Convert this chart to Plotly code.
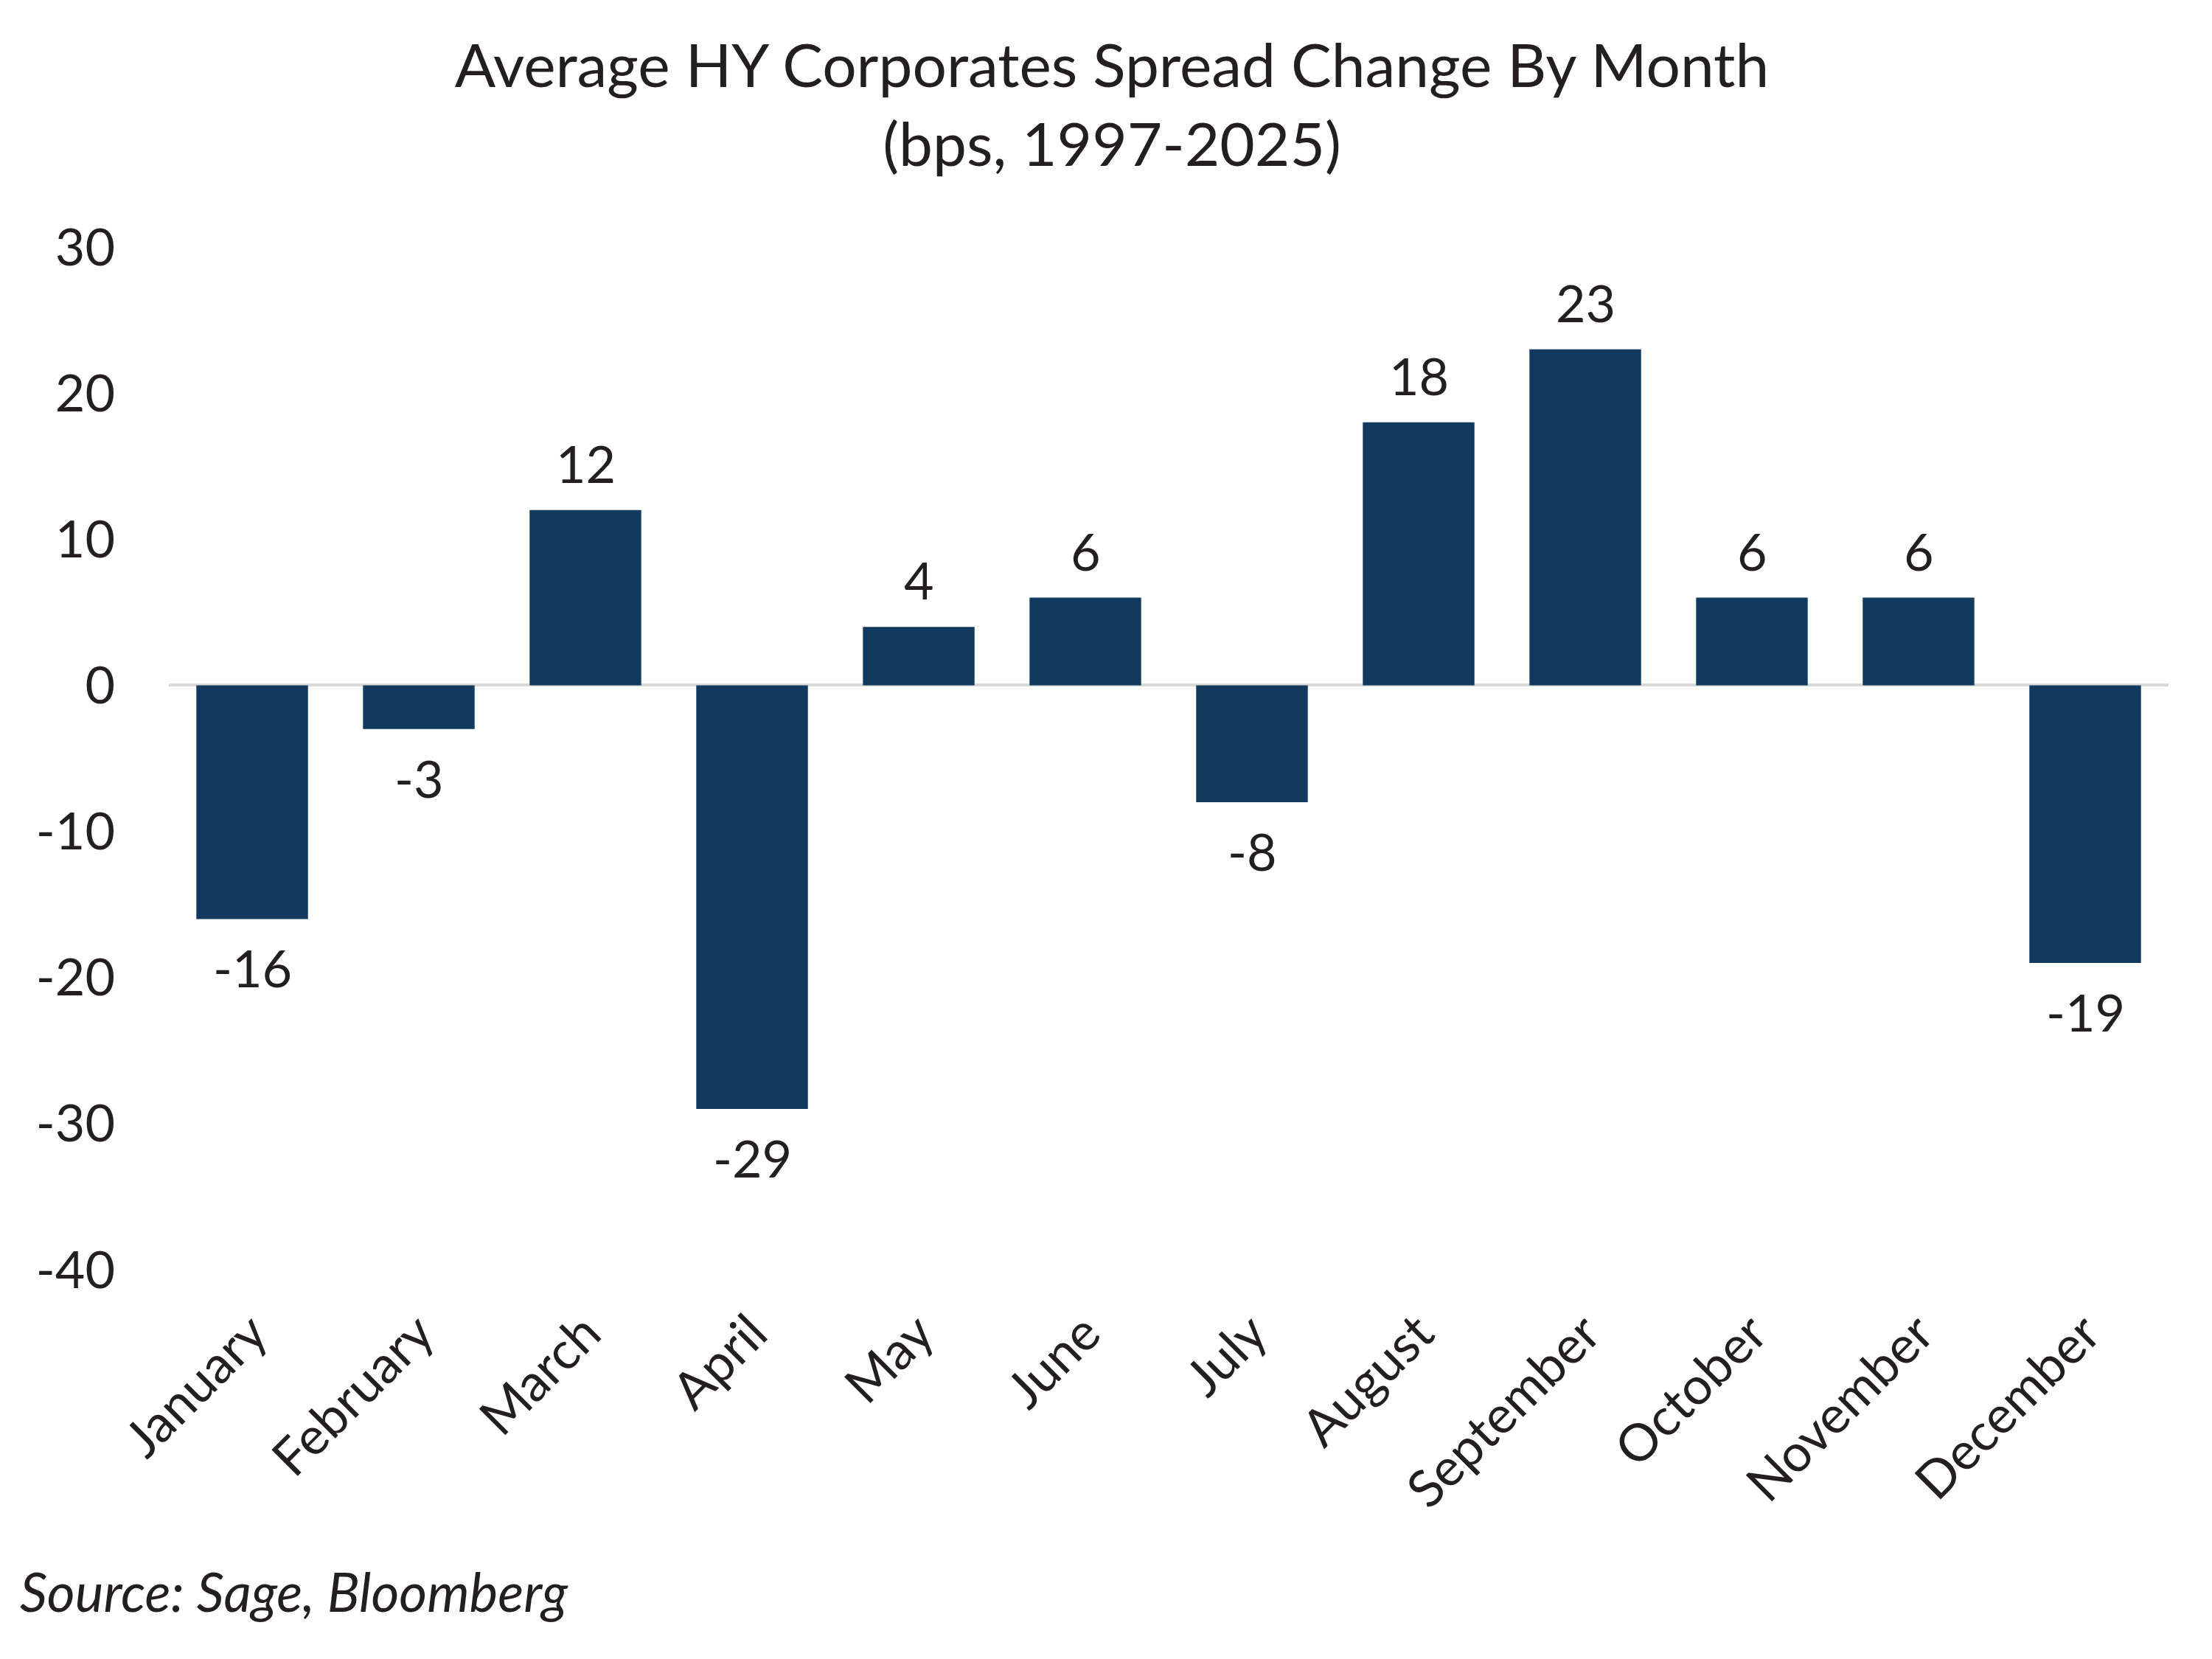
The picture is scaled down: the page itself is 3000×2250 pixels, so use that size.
import plotly.graph_objects as go

months = ["January", "February", "March", "April", "May", "June", "July",
          "August", "September", "October", "November", "December"]
spread_change = [-16, -3, 12, -29, 4, 6, -8, 18, 23, 6, 6, -19]
y_ticks = [-40, -30, -20, -10, 0, 10, 20, 30]

BAR_COLOR = "#123A5E"
TEXT_COLOR = "#231F20"
FONT = "Lato"

W, H = 3000, 2250
ML, MR, MT, MB = 221, 67, 327, 536
PW, PH = W - ML - MR, H - MT - MB

fig = go.Figure()
fig.add_trace(go.Bar(
    x=months, y=spread_change,
    marker=dict(color=BAR_COLOR, line=dict(width=0)),
    hoverinfo="x+y",
))

annotations = []
for m, v in zip(months, spread_change):
    annotations.append(dict(
        x=m, y=v, xref="x", yref="y", text=str(v), showarrow=False,
        yanchor="middle", yshift=64 if v >= 0 else -66,
        font=dict(family=FONT, size=70, color=TEXT_COLOR),
    ))
annotations.append(dict(
    x=(17 - ML) / PW, y=(H - MB - 2150) / PH, xref="paper", yref="paper",
    text="<i>Source: Sage, Bloomberg</i>",
    showarrow=False, xanchor="left", yanchor="middle",
    font=dict(family=FONT, size=73, color=TEXT_COLOR),
))

fig.update_layout(
    width=W, height=H,
    paper_bgcolor="white", plot_bgcolor="white",
    margin=dict(l=ML, r=MR, t=MT, b=MB),
    font=dict(family=FONT, size=70, color=TEXT_COLOR),
    title=dict(
        text="Average HY Corporates Spread Change By Month<br>(bps, 1997-2025)",
        x=0.5, xanchor="center", y=1 - 110 / H, yanchor="middle",
        font=dict(family=FONT, size=82, color=TEXT_COLOR),
    ),
    bargap=0.33,
    showlegend=False,
    annotations=annotations,
)
fig.update_xaxes(
    tickangle=-45, showgrid=False, showline=False, ticks="",
    ticklabelstandoff=30,
    tickfont=dict(family=FONT, size=70, color=TEXT_COLOR),
)
fig.update_yaxes(
    range=[-40, 30], tickvals=y_ticks, ticktext=[str(t) for t in y_ticks],
    showgrid=False, showline=False, ticks="",
    zeroline=True, zerolinecolor="#D9D9D9", zerolinewidth=4,
    ticklabelstandoff=72,
    tickfont=dict(family=FONT, size=70, color=TEXT_COLOR),
)

fig.write_html("out.html")
